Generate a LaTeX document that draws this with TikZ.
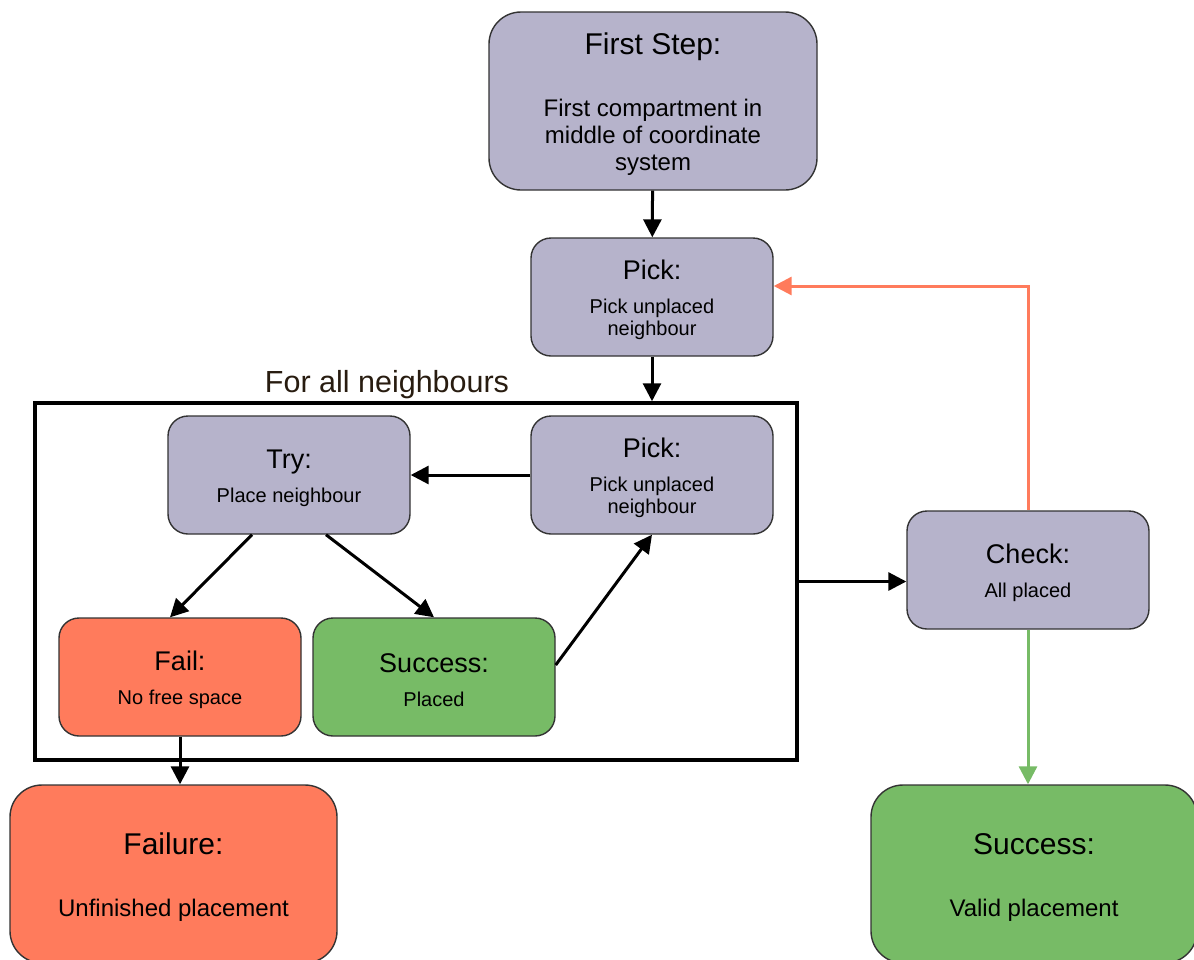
\documentclass[tikz,border=0pt]{standalone}
\usepackage{fontspec}
\setmainfont{Liberation Sans}
\usetikzlibrary{arrows.meta}

\definecolor{boxgray}{RGB}{182,179,203}
\definecolor{failred}{RGB}{255,123,92}
\definecolor{okgreen}{RGB}{119,187,102}
\definecolor{labelbrown}{RGB}{40,28,16}

\newcommand{\steptitle}[1]{{\fontsize{27}{27}\selectfont\rule{0pt}{25pt}#1}\\[12pt]}
\newcommand{\bigtitle}[1]{{\fontsize{30}{30}\selectfont\rule{0pt}{28.5pt}#1}\\[35pt]}

\begin{document}
\begin{tikzpicture}[x=1pt,y=-1pt,
    stepbox/.style={draw=black!80, line width=1.4pt, rounded corners=20pt, fill=boxgray,
        align=center, inner sep=0pt, minimum width=242pt, minimum height=118pt,
        font=\fontsize{20}{22}\selectfont},
    bigbox/.style={stepbox, rounded corners=32pt, minimum height=178pt,
        font=\fontsize{24}{27}\selectfont},
    flow/.style={line width=3pt, -{Triangle[length=18pt,width=18pt]}}]
    \clip (0,0) rectangle (1194,959);

    % Start
    \node[bigbox, minimum width=328pt] (first) at (653,101)
        {\bigtitle{First Step:}First compartment in\\middle of coordinate\\system};
    \node[stepbox] (pickA) at (652,297) {\steptitle{Pick:}Pick unplaced\\neighbour};

    % Loop
    \node[draw, line width=3.5pt, minimum width=762pt, minimum height=357pt, inner sep=0pt] (loop) at (416,581.5) {};
    \node[font=\fontsize{30.5}{30.5}\selectfont, text=labelbrown] (looplabel) at (387,385) {For all neighbours};
    \node[stepbox] (pickB) at (652,475) {\steptitle{Pick:}Pick unplaced\\neighbour};
    \node[stepbox] (try) at (289,475) {\steptitle{Try:}Place neighbour};
    \node[stepbox, fill=failred] (fail) at (180,677) {\steptitle{Fail:}No free space};
    \node[stepbox, fill=okgreen] (placed) at (434,677) {\steptitle{Success:}Placed};

    % Check and ends
    \node[stepbox] (check) at (1028,570) {\steptitle{Check:}All placed};
    \node[bigbox, fill=failred, minimum width=327pt] (failure) at (173.5,874)
        {\bigtitle{Failure:}Unfinished placement};
    \node[bigbox, fill=okgreen, minimum width=326pt] (valid) at (1034,874)
        {\bigtitle{Success:}Valid placement};

    % Arrows
    \draw[flow] (first) -- (pickA);
    \draw[flow] (pickA.south) -- (pickA.south |- loop.north);
    \draw[flow] (pickB) -- (try);
    \draw[flow] ([xshift=-37pt]try.south) -- ([xshift=-10pt]fail.north);
    \draw[flow] ([xshift=37pt]try.south) -- (placed.north);
    \draw[flow] ([yshift=12pt]placed.east) -- (pickB.south);
    \draw[flow] (fail.south) -- (fail.south |- failure.north);
    \draw[flow] (loop.east) -- (loop.east -| check.west);
    \draw[flow, draw=failred, color=failred] (check.north) |- ([yshift=11pt]pickA.east);
    \draw[flow, draw=okgreen, color=okgreen] (check.south) -- (check.south |- valid.north);
\end{tikzpicture}
\end{document}
